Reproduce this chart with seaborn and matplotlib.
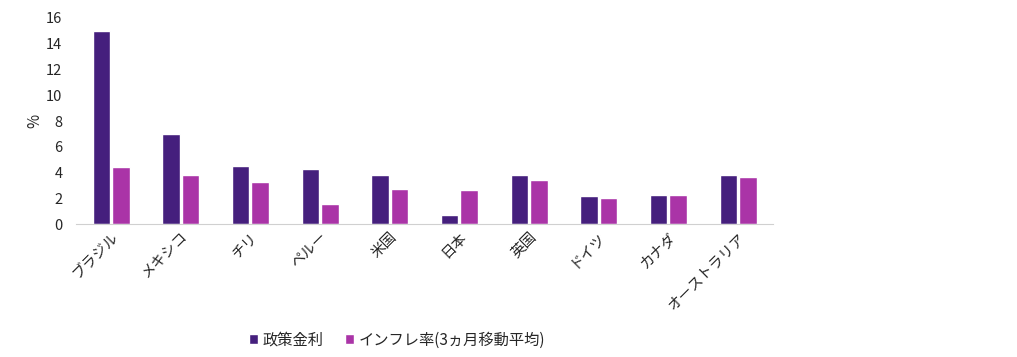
import numpy as np
import pandas as pd
import seaborn as sns
import matplotlib.pyplot as plt

countries = ['ブラジル', 'メキシコ', 'チリ', 'ペルー', '米国', '日本', '英国', 'ドイツ', 'カナダ', 'オーストラリア']
policy_rate = [15.0, 7.0, 4.5, 4.25, 3.8, 0.75, 3.8, 2.15, 2.25, 3.85]
inflation = [4.4, 3.8, 3.25, 1.55, 2.73, 2.68, 3.4, 2.06, 2.3, 3.66]
series_names = ['政策金利', 'インフレ率(3ヵ月移動平均)']
colors = ['#451F7D', '#AA34A7']

df = pd.DataFrame({
    'country': countries * 2,
    'value': policy_rate + inflation,
    'series': [series_names[0]] * len(countries) + [series_names[1]] * len(countries),
})

sns.set_style('white')
plt.rcParams['font.family'] = ['Noto Sans CJK JP', 'DejaVu Sans']

fig, ax = plt.subplots(figsize=(10.17, 3.57), dpi=100)
fig.subplots_adjust(left=0.075, right=0.76, top=0.95, bottom=0.372)

sns.barplot(data=df, x='country', y='value', hue='series', palette=colors,
            width=0.56, gap=0.1, saturation=1, ax=ax)

ax.set_ylim(0, 16)
ax.set_yticks(np.arange(0, 17, 2))
ax.set_ylabel('%', fontsize=11, labelpad=2)
ax.set_xlabel('')
ax.tick_params(axis='y', labelsize=10.5, length=0, pad=10)
ax.tick_params(axis='x', labelsize=10.5, length=0, pad=4)
plt.setp(ax.get_xticklabels(), rotation=45, ha='right', rotation_mode='anchor')

for s in ['top', 'right', 'left']:
    ax.spines[s].set_visible(False)
ax.spines['bottom'].set_color('#d0d0d0')

handles, labels = ax.get_legend_handles_labels()
ax.legend(handles, labels, loc='lower center', bbox_to_anchor=(0.46, -0.67),
          ncol=2, frameon=False, fontsize=11, handlelength=0.6, handleheight=0.6,
          handletextpad=0.3, columnspacing=1.4)

fig.savefig('out.png', dpi=100)
